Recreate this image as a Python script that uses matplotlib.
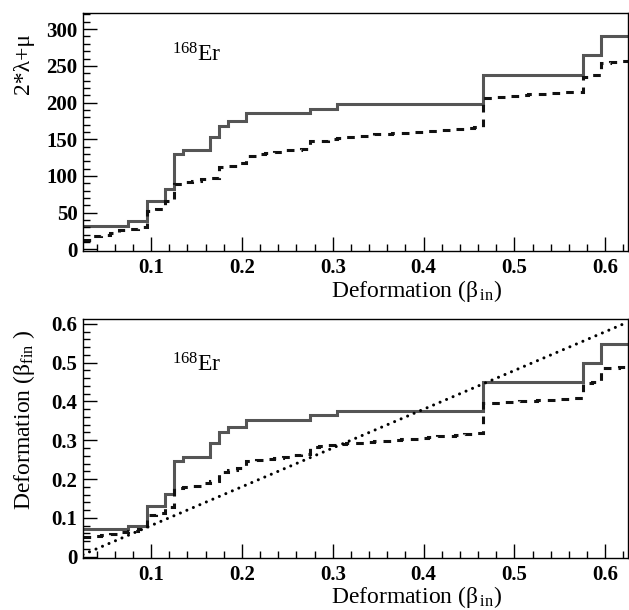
import matplotlib
matplotlib.use("Agg")
import matplotlib.pyplot as plt
from matplotlib.ticker import MultipleLocator
import numpy as np

plt.rcParams['font.family'] = ['Liberation Serif', 'DejaVu Serif']
plt.rcParams['mathtext.fontset'] = 'custom'
plt.rcParams['mathtext.rm'] = 'Liberation Serif'
plt.rcParams['mathtext.it'] = 'Liberation Serif:italic'

# ---------------- data ----------------
bin_edges_fine = np.round(np.arange(0.025, 0.6251, 0.01), 3)  # 60 bins

solid_edges = [0.025, 0.075, 0.095, 0.115, 0.125, 0.135, 0.165, 0.175, 0.185,
               0.205, 0.275, 0.305, 0.465, 0.575, 0.595, 0.625]
top_solid = [32, 38.5, 66, 82, 129.5, 135.5, 153, 168.5, 175.5,
             185.5, 191, 197.5, 237.5, 264.5, 291]

top_dashed = [13, 18, 20, 22, 26, 28, 30, 52, 55, 66,
              89, 92, 93, 96, 97, 112, 114, 117, 127, 130,
              131, 133, 135, 136, 137, 147, 148, 150, 151, 153,
              154, 155, 157, 157.5, 158, 159, 160, 160.5, 161, 162,
              163, 164, 165, 166, 206, 207, 208, 209, 210.5, 211,
              212, 213, 213.5, 214, 215, 235, 238, 254, 255, 256.5]

bot_solid = [0.072, 0.080, 0.131, 0.162, 0.247, 0.258, 0.292, 0.322, 0.335,
             0.353, 0.364, 0.375, 0.449, 0.500, 0.548]

bot_dashed = [0.051, 0.053, 0.055, 0.058, 0.063, 0.067, 0.070, 0.108, 0.112, 0.128,
              0.176, 0.179, 0.182, 0.190, 0.195, 0.217, 0.222, 0.228, 0.246, 0.248,
              0.251, 0.254, 0.258, 0.262, 0.265, 0.282, 0.285, 0.289, 0.291, 0.293,
              0.294, 0.295, 0.297, 0.299, 0.300, 0.302, 0.304, 0.306, 0.308, 0.310,
              0.312, 0.314, 0.316, 0.318, 0.395, 0.396, 0.398, 0.3995, 0.401, 0.402,
              0.403, 0.404, 0.4055, 0.407, 0.408, 0.447, 0.451, 0.486, 0.487, 0.489]

diag_x = [0.025, 0.625]
diag_y = [0.005, 0.605]

top_yticks = [0, 50, 100, 150, 200, 250, 300]
bot_yticks = [0, 0.1, 0.2, 0.3, 0.4, 0.5, 0.6]
bot_yticklabels = ['0', '0.1', '0.2', '0.3', '0.4', '0.5', '0.6']

xlabel = "Deformation (β$_{\\,\\mathrm{in}}$)"
ylabel_top = "2*λ+μ"
ylabel_bot = "Deformation (β$_{\\mathrm{fin}}$ )"
nucleus = "$^{168}$Er"

# ---------------- figure ----------------
W, H = 629, 610
fig = plt.figure(figsize=(W / 100, H / 100), dpi=100)

def fx(px):
    return px / W

def fy(py):
    return 1 - py / H

ax1 = fig.add_axes([fx(83), fy(251), fx(628) - fx(83), fy(13) - fy(251)])
ax2 = fig.add_axes([fx(83), fy(557.7), fx(628) - fx(83), fy(319.3) - fy(557.7)])

solid_color = '#555555'
for ax, s_vals, d_vals, ylim in [(ax1, top_solid, top_dashed, (-2.3, 322)),
                                  (ax2, bot_solid, bot_dashed, (-0.003, 0.612))]:
    ax.stairs(s_vals, solid_edges, color=solid_color, lw=2.2, baseline=None)
    ax.stairs(d_vals, bin_edges_fine, color='#111111', lw=2.2,
              linestyle=(0, (2.5, 2.3)), baseline=None)
    ax.set_xlim(0.025, 0.625)
    ax.set_ylim(*ylim)
    ax.xaxis.set_major_locator(MultipleLocator(0.1))
    ax.xaxis.set_minor_locator(MultipleLocator(0.02))
    ax.tick_params(axis='both', which='major', direction='in', length=10, width=1,
                   labelsize=15, top=False, right=False)
    ax.tick_params(axis='both', which='minor', direction='in', length=5, width=1,
                   top=False, right=False)
    ax.tick_params(axis='x', pad=5)
    ax.tick_params(axis='y', pad=4)
    for sp in ax.spines.values():
        sp.set_linewidth(1.0)
    ax.set_xlabel(xlabel, fontsize=17, loc='right')

ax1.set_yticks(top_yticks)
ax1.yaxis.set_minor_locator(MultipleLocator(10))
ax1.set_ylabel(ylabel_top, fontsize=17, loc='top')
ax1.yaxis.set_label_coords(-0.09, 0.916)
ax1.xaxis.set_label_coords(0.769, -0.115)
ax1.text(0.163, 0.798, nucleus, transform=ax1.transAxes, fontsize=17,
         ha='left', va='baseline')

ax2.set_yticks(bot_yticks)
ax2.set_yticklabels(bot_yticklabels)
ax2.yaxis.set_minor_locator(MultipleLocator(0.02))
ax2.plot(diag_x, diag_y, color='black', lw=2.2, linestyle=(0, (0.01, 2.3)),
         dash_capstyle='round')
ax2.set_ylabel(ylabel_bot, fontsize=17, loc='top')
ax2.yaxis.set_label_coords(-0.085, 0.955)
ax2.xaxis.set_label_coords(0.769, -0.112)
ax2.text(0.163, 0.78, nucleus, transform=ax2.transAxes, fontsize=17,
         ha='left', va='baseline')

for ax in (ax1, ax2):
    for lab in ax.get_xticklabels() + ax.get_yticklabels():
        lab.set_fontweight('bold')

fig.savefig('out.png', dpi=100)
